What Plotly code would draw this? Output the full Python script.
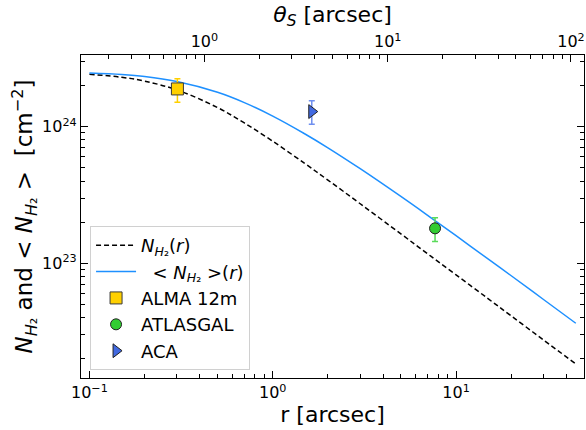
import plotly.graph_objects as go

# ---- data ----
r_model = [0.1, 0.15, 0.2, 0.3, 0.5, 0.7, 1.0, 1.5, 2.0, 3.0, 5.0, 7.0, 10.0, 15.0, 20.0, 30.0, 45.0]
n_profile = [2.42e24, 2.30e24, 2.155e24, 1.86e24, 1.38e24, 1.065e24, 7.82e23, 5.36e23, 4.06e23,
             2.725e23, 1.64e23, 1.17e23, 8.21e22, 5.48e22, 4.11e22, 2.74e22, 1.83e22]
n_mean = [2.47e24, 2.41e24, 2.33e24, 2.14e24, 1.785e24, 1.50e24, 1.195e24, 8.84e23, 7.0e23,
          4.92e23, 3.08e23, 2.24e23, 1.59e23, 1.07e23, 8.09e22, 5.42e22, 3.63e22]

alma_r = [0.302]
alma_n = [1.89e24]
alma_up = [0.35e24]
alma_dn = [0.38e24]

atlas_r = [7.68]
atlas_n = [1.80e23]
atlas_up = [0.35e23]
atlas_dn = [0.36e23]

aca_r = [1.633]
aca_n = [1.29e24]
aca_up = [0.26e24]
aca_dn = [0.25e24]

x_ticks = [0.1, 1, 10]
x_ticktext = ["10<sup>\u22121</sup>", "10<sup>0</sup>", "10<sup>1</sup>"]
top_ticks = [1, 10, 100]
top_ticktext = ["10<sup>0</sup>", "10<sup>1</sup>", "10<sup>2</sup>"]
y_ticks = [1e23, 1e24]
y_ticktext = ["10<sup>23</sup>", "10<sup>24</sup>"]

x_range_log = [-1.046, 1.698]
top_range_log = [-0.673, 2.071]
y_range_log = [22.159, 24.525]

NH2 = "<i>N</i><sub><i>H</i>\u2082</sub>"

fig = go.Figure()
fig.add_trace(go.Scatter(x=r_model, y=n_profile, mode="lines", line=dict(color="black", width=1.5, dash="5px,3px", shape="spline"),
                         name=NH2 + "(<i>r</i>)"))
fig.add_trace(go.Scatter(x=r_model, y=n_mean, mode="lines", line=dict(color="#1E90FF", width=1.5, shape="spline"),
                         name="  < " + NH2 + " >(<i>r</i>)"))
fig.add_trace(go.Scatter(x=alma_r, y=alma_n, mode="markers", name="ALMA 12m",
                         marker=dict(symbol="square", size=12, color="#FFD000", line=dict(color="#3a3a3a", width=1)),
                         error_y=dict(type="data", symmetric=False, array=alma_up, arrayminus=alma_dn,
                                      color="#FFD000", thickness=1.5, width=3)))
fig.add_trace(go.Scatter(x=atlas_r, y=atlas_n, mode="markers", name="ATLASGAL",
                         marker=dict(symbol="circle", size=11, color="#32CD32", line=dict(color="#222222", width=1)),
                         error_y=dict(type="data", symmetric=False, array=atlas_up, arrayminus=atlas_dn,
                                      color="#5ADB5A", thickness=1.5, width=3)))
fig.add_trace(go.Scatter(x=aca_r, y=aca_n, mode="markers", name="ACA",
                         marker=dict(symbol="triangle-right", size=12, color="#4169E1", line=dict(color="#222222", width=1)),
                         error_y=dict(type="data", symmetric=False, array=aca_up, arrayminus=aca_dn,
                                      color="#6F8FEF", thickness=1.5, width=3)))
# invisible helper so the top (theta_S) axis is drawn
fig.add_trace(go.Scatter(x=top_ticks, y=[y_ticks[1]] * len(top_ticks), xaxis="x2", mode="markers",
                         marker=dict(opacity=0), showlegend=False, hoverinfo="skip"))

def minor_vals(lo, hi):
    vals = []
    for e in range(lo, hi + 1):
        for m in range(2, 10):
            vals.append(float(m) * 10.0 ** e)
    return vals

tickfont = dict(family="DejaVu Sans", size=16, color="black")

fig.update_layout(
    width=586, height=430,
    margin=dict(l=81, r=2, t=55, b=52),
    paper_bgcolor="white", plot_bgcolor="white",
    font=dict(family="DejaVu Sans", color="black"),
    showlegend=True,
    legend=dict(x=0.018, y=0.025, xanchor="left", yanchor="bottom",
                bgcolor="rgba(255,255,255,0.85)", bordercolor="#d0d0d0", borderwidth=1,
                font=dict(family="DejaVu Sans", size=18, color="black"),
                itemwidth=40, tracegroupgap=0),
    xaxis=dict(type="log", range=x_range_log, tickmode="array", tickvals=x_ticks, ticktext=x_ticktext,
               ticks="inside", ticklen=7, tickwidth=1, tickcolor="black",
               showline=True, linecolor="black", linewidth=1.3, mirror=False, showgrid=False, zeroline=False,
               tickfont=tickfont,
               minor=dict(tickmode="array", tickvals=minor_vals(-2, 2), ticks="inside", ticklen=3.5,
                          tickwidth=1, tickcolor="black", showgrid=False),
               title=dict(text="r [arcsec]", font=dict(family="DejaVu Sans", size=22), standoff=4)),
    xaxis2=dict(type="log", range=top_range_log, overlaying="x", side="top", anchor="y",
                tickmode="array", tickvals=top_ticks, ticktext=top_ticktext,
                ticks="inside", ticklen=7, tickwidth=1, tickcolor="black",
                showline=True, linecolor="black", linewidth=1.3, showgrid=False, zeroline=False,
                tickfont=tickfont,
                minor=dict(tickmode="array", tickvals=minor_vals(-1, 2), ticks="inside", ticklen=3.5,
                           tickwidth=1, tickcolor="black", showgrid=False),
                title=dict(text="<i>\u03b8<sub>S</sub></i> [arcsec]", font=dict(family="DejaVu Sans", size=22), standoff=2)),
    yaxis=dict(type="log", range=y_range_log, tickmode="array", tickvals=y_ticks, ticktext=y_ticktext,
               ticks="inside", ticklen=7, tickwidth=1, tickcolor="black",
               showline=True, linecolor="black", linewidth=1.3, mirror="ticks", showgrid=False, zeroline=False,
               tickfont=tickfont,
               minor=dict(tickmode="array", tickvals=minor_vals(22, 24), ticks="inside", ticklen=3.5,
                          tickwidth=1, tickcolor="black", showgrid=False),
               title=dict(text=NH2 + " and < " + NH2 + " >  [cm<sup>\u22122</sup>]",
                          font=dict(family="DejaVu Sans", size=23), standoff=2)),
)

fig.write_html("out.html")
